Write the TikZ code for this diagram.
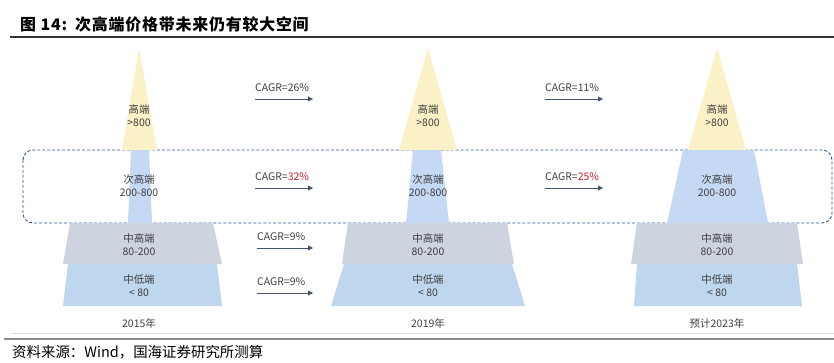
\documentclass[tikz,border=0pt]{standalone}
\usepackage{fontspec}
\setmainfont{Noto Sans CJK SC}
\usetikzlibrary{arrows.meta}
\definecolor{txt}{HTML}{404040}
\definecolor{yelc}{HTML}{FBF1C6}
\definecolor{bluc}{HTML}{C5D8F4}
\definecolor{gryc}{HTML}{CDD3DF}
\definecolor{lowc}{HTML}{BED6EE}
\definecolor{dshc}{HTML}{2F5597}
\definecolor{arrc}{HTML}{44546A}
\definecolor{redt}{HTML}{C0202A}
\tikzset{
  seglabel/.style={text=txt, font=\fontsize{10.5}{13}\selectfont, align=center, inner sep=0pt},
  cagr/.style={text=txt, font=\fontsize{10.5}{12}\selectfont, anchor=west, inner sep=0pt},
  yr/.style={text=txt, font=\fontsize{10.5}{12}\selectfont, inner sep=0pt},
  garrow/.style={draw=arrc, line width=0.8pt, -{Triangle[length=5pt,width=5pt]}},
}
\begin{document}
\begin{tikzpicture}[x=1bp,y=-1bp]
\useasboundingbox (0,0) rectangle (834,362);
% title
\node[anchor=west, inner sep=0pt, font=\fontsize{16}{17}\selectfont\bfseries\addfontfeature{LetterSpace=5}, text=black] (title) at (20,24) {图 14:\hspace{0.5em}次高端价格带未来仍有较大空间};
\draw[line width=1.1pt, black!80] (10,37) -- (834,37);
% dashed band
\draw[dshc, line width=0.9pt, dash pattern=on 3pt off 2pt, rounded corners=10bp] (23,150) rectangle (832,223);
% pyramid 2015
\fill[yelc] (139,48) -- (122,150) -- (157,150) -- cycle;
\fill[bluc] (131,150) -- (149,150) -- (152,223) -- (128,223) -- cycle;
\fill[gryc] (70,223) -- (213,223) -- (222,264) -- (63,264) -- cycle;
\fill[lowc] (68,264) -- (217,264) -- (222,306) -- (63,306) -- cycle;
% pyramid 2019
\fill[yelc] (428,48) -- (399,150) -- (457,150) -- cycle;
\fill[bluc] (413,150) -- (441,150) -- (449,223) -- (406,223) -- cycle;
\fill[gryc] (348,223) -- (507,223) -- (514,264) -- (342,264) -- cycle;
\fill[lowc] (344,264) -- (512,264) -- (525,306) -- (331,306) -- cycle;
% pyramid 2023
\fill[yelc] (717,48) -- (688,150) -- (746,150) -- cycle;
\fill[bluc] (683,150) -- (754,150) -- (768,223) -- (667,223) -- cycle;
\fill[gryc] (637,223) -- (797,223) -- (803,264) -- (631,264) -- cycle;
\fill[lowc] (637,264) -- (797,264) -- (802,306) -- (634,306) -- cycle;
% labels
\foreach \n/\x in {a/139,b/428,c/717}{
  \node[seglabel] (hi\n) at (\x,116) {高端\\>800};
  \node[seglabel] (sub\n) at (\x,186) {次高端\\200-800};
  \node[seglabel] (mid\n) at (\x,245) {中高端\\80-200};
  \node[seglabel] (low\n) at (\x,286) {中低端\\< 80};
}
\node[yr] (y1) at (139,323) {2015年};
\node[yr] (y2) at (428,323) {2019年};
\node[yr] (y3) at (717,323) {预计2023年};
% CAGR
\node[cagr] (c1) at (255,88) {CAGR=26\%};
\node[cagr] (c2) at (255,177) {CAGR=\textcolor{redt}{32\%}};
\node[cagr] (c3) at (257,237) {CAGR=9\%};
\node[cagr] (c4) at (257,282) {CAGR=9\%};
\node[cagr] (c5) at (545,88) {CAGR=11\%};
\node[cagr] (c6) at (545,177) {CAGR=\textcolor{redt}{25\%}};
\coordinate (a1s) at (255,99);  \coordinate (a1e) at (313,99);
\coordinate (a2s) at (255,188); \coordinate (a2e) at (313,188);
\coordinate (a3s) at (257,248); \coordinate (a3e) at (313,248);
\coordinate (a4s) at (257,293); \coordinate (a4e) at (313,293);
\coordinate (a5s) at (545,99);  \coordinate (a5e) at (603,99);
\coordinate (a6s) at (545,188); \coordinate (a6e) at (603,188);
\foreach \i in {1,...,6}{ \draw[garrow] (a\i s) -- (a\i e); }
% bottom lines
\draw[line width=0.5pt, black!15] (12,333) -- (834,333);
\draw[line width=1.4pt, black!45] (4,339) -- (834,339);
\node[anchor=west, inner sep=0pt, font=\fontsize{14.5}{15}\selectfont, text=black] (src) at (12,352) {资料来源：Wind，国海证券研究所测算};
\end{tikzpicture}
\end{document}
